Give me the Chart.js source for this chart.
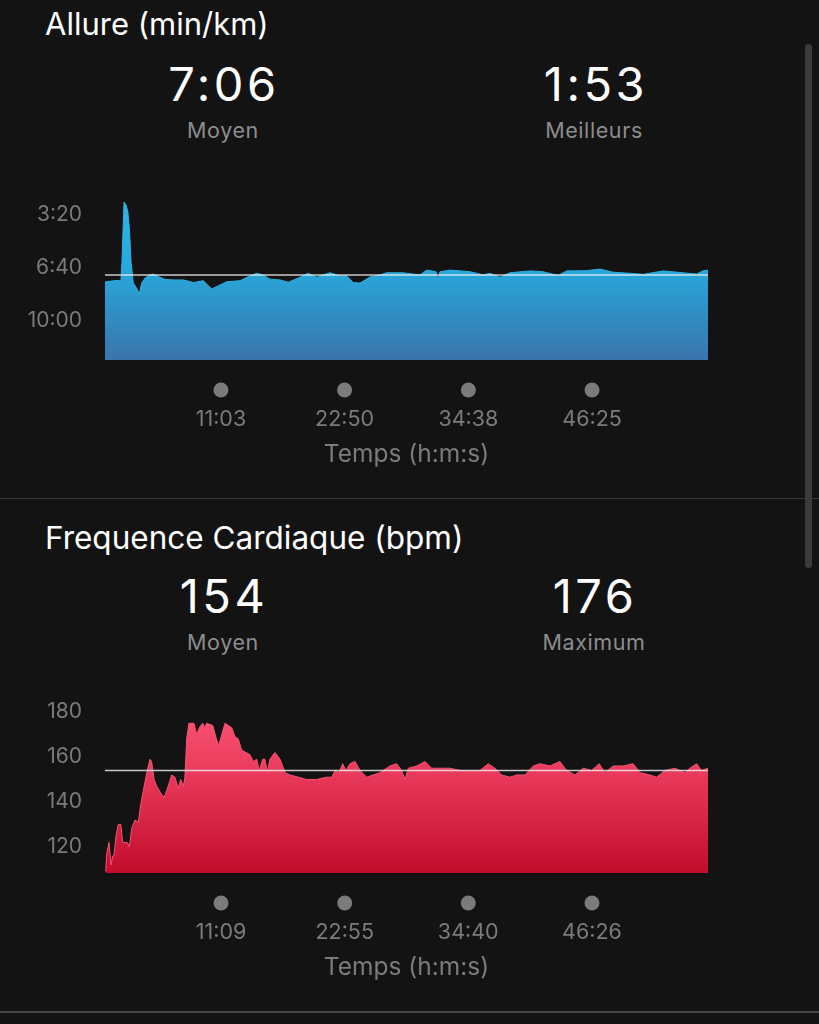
<!DOCTYPE html>
<html>
<head>
<meta charset="utf-8">
<script src="https://cdn.jsdelivr.net/npm/chart.js@4.4.1/dist/chart.umd.min.js"></script>
<style>
  html, body { margin: 0; padding: 0; }
  body {
    width: 819px; height: 1024px; overflow: hidden; position: relative;
    background: #131313; font-family: Inter, "Noto Sans", sans-serif; color: #fff;
  }
  .abs { position: absolute; white-space: nowrap; }
  .title { left: 45px; font-size: 31px; line-height: 40px; }
  .big { font-size: 47px; line-height: 60px; letter-spacing: 3.5px; width: 300px; text-align: center; }
  .sub { font-size: 21.5px; line-height: 30px; letter-spacing: 0.6px; width: 300px; text-align: center; color: #8d8d8d; }
  .sep { position: absolute; left: 0; width: 819px; }
  canvas { position: absolute; left: 0; }
  .scroll { position: absolute; left: 805px; top: 44px; width: 7px; height: 524px; border-radius: 4px; background: #3b3b3b; }
</style>
</head>
<body>
  <div class="abs title" style="top:4px">Allure (min/km)</div>
  <div class="abs big" style="left:74px; top:54px">7:06</div>
  <div class="abs sub" style="left:73px; top:115px">Moyen</div>
  <div class="abs big" style="left:446px; top:54px">1:53</div>
  <div class="abs sub" style="left:444px; top:115px">Meilleurs</div>
  <!-- y tick labels + padding push the plot top 35.6px down inside the canvas -->
  <canvas id="paceChart" width="819" height="306" style="top:164px"></canvas>

  <div class="sep" style="top:498px; height:1px; background:#3a3a3a"></div>

  <div class="abs title" style="top:518px; font-size:31.5px">Frequence Cardiaque (bpm)</div>
  <div class="abs big" style="left:74px; top:566px">154</div>
  <div class="abs sub" style="left:73px; top:627px">Moyen</div>
  <div class="abs big" style="left:445px; top:566px">176</div>
  <div class="abs sub" style="left:444px; top:627px">Maximum</div>
  <canvas id="hrChart" width="819" height="323" style="top:660px"></canvas>

  <div class="sep" style="top:1011px; height:2px; background:#474747"></div>
  <div class="scroll"></div>

<script>
// pace, seconds per km, sampled over elapsed seconds
const paceTimes = [0, 40, 74, 91, 97, 109, 120, 131, 140, 149, 162, 181, 196, 210, 229, 257, 276, 314, 343, 389,
  448, 505, 562, 610, 658, 696, 772, 819, 867, 903, 943, 1001, 1048, 1115, 1162, 1211, 1247, 1287, 1344, 1382,
  1420, 1458, 1515, 1572, 1611, 1704, 1801, 1840, 1893, 1902, 1916, 1973, 2087, 2163, 2201, 2259, 2316, 2430,
  2504, 2592, 2640, 2754, 2830, 2906, 3002, 3078, 3192, 3288, 3383, 3421, 3448];
const paceValues = [453, 449, 447, 449, 377, 151, 162, 189, 257, 377, 457, 476, 498, 457, 438, 426, 423, 435, 443, 445,
  445, 455, 448, 479, 464, 452, 448, 433, 420, 426, 442, 445, 454, 435, 420, 435, 426, 418, 430, 430,
  455, 457, 434, 426, 418, 418, 426, 408, 414, 443, 414, 408, 414, 426, 420, 435, 418, 411,
  414, 428, 411, 410, 404, 416, 420, 424, 411, 417, 423, 410, 408];
const paceAverage = 426;
const paceYTicks = ['3:20', '6:40', '10:00'];
const paceXTicks = ['11:03', '22:50', '34:38', '46:25'];

// heart rate, bpm
const hrTimes = [11, 17, 30, 41, 51, 58, 70, 83, 97, 108, 121, 134, 146, 159, 178, 197, 211, 226, 245, 264,
  273, 287, 302, 325, 344, 359, 388, 406, 425, 439, 454, 463, 473, 486, 515, 530, 545, 564, 578, 587,
  622, 639, 656, 673, 692, 711, 730, 749, 768, 787, 812, 834, 853, 873, 887, 907, 920, 933, 948, 977,
  1006, 1034, 1063, 1110, 1158, 1215, 1272, 1301, 1320, 1342, 1363, 1382, 1405, 1434, 1462, 1500, 1536, 1576, 1595, 1633,
  1671, 1700, 1719, 1738, 1786, 1833, 1871, 1918, 1976, 2033, 2090, 2147, 2194, 2232, 2271, 2318, 2356, 2404, 2451, 2489,
  2546, 2603, 2641, 2689, 2736, 2784, 2827, 2860, 2907, 2964, 3021, 3060, 3117, 3155, 3202, 3259, 3316, 3345, 3383, 3411,
  3448];
const hrValues = [109, 117, 122, 112, 116, 116, 125, 130, 130, 122, 122, 122, 120, 128, 132, 131, 139, 145, 153, 159,
  158, 150, 147, 144, 142, 145, 152, 151, 146, 150, 147, 151, 168, 175, 175, 170, 173, 175, 173, 175,
  174, 169, 165, 170, 175, 174, 173, 169, 168, 163, 162, 161, 158, 159, 154, 159, 159, 153, 159, 162,
  159, 153, 152, 151, 150, 150, 151, 151, 154, 153, 157, 154, 157, 158, 154, 151, 152, 153, 154, 156,
  157, 154, 150, 155, 156, 158, 155, 155, 155, 154, 154, 154, 157, 155, 152, 151, 152, 152, 156, 157,
  156, 158, 154, 152, 155, 154, 157, 153, 156, 156, 157, 153, 152, 151, 154, 155, 153, 155, 157, 154,
  155];
const hrAverage = 154;
const hrYTicks = [120, 140, 160, 180];
const hrXTicks = ['11:09', '22:55', '34:40', '46:26'];

const toSec = (s) => s.split(':').reduce((a, b) => a * 60 + Number(b), 0);
const fmt = (v) => `${Math.floor(v / 60)}:${String(Math.round(v % 60)).padStart(2, '0')}`;

Chart.defaults.font.family = 'Inter, "Noto Sans", sans-serif';

const tickDots = {
  id: 'tickDots',
  afterDraw(chart) {
    const x = chart.scales.x;
    const ctx = chart.ctx;
    ctx.save();
    ctx.fillStyle = '#7b7b7b';
    x.ticks.forEach((t) => {
      ctx.beginPath();
      ctx.arc(x.getPixelForValue(t.value), x.top + 30, 7.5, 0, Math.PI * 2);
      ctx.fill();
    });
    ctx.restore();
  },
};

function gradientFill(stops) {
  return (c) => {
    const area = c.chart.chartArea;
    if (!area) return stops[0][1];
    const g = c.chart.ctx.createLinearGradient(0, area.top, 0, area.bottom);
    stops.forEach(([p, col]) => g.addColorStop(p, col));
    return g;
  };
}

function makeChart(id, cfg) {
  const points = cfg.times.map((t, i) => ({ x: t, y: cfg.values[i] }));
  return new Chart(document.getElementById(id), {
    type: 'line',
    data: {
      datasets: [
        {
          data: [{ x: cfg.xMin, y: cfg.avg }, { x: cfg.xMax, y: cfg.avg }],
          borderColor: 'rgba(235, 235, 235, 0.85)',
          borderWidth: 1.5,
          pointRadius: 0,
          fill: false,
          order: 0,
        },
        {
          data: points,
          borderColor: cfg.edge,
          borderWidth: 1,
          backgroundColor: gradientFill(cfg.stops),
          fill: 'start',
          pointRadius: 0,
          tension: 0,
          order: 1,
        },
      ],
    },
    options: {
      responsive: false,
      animation: false,
      layout: { padding: { left: 0, right: 111, top: 0, bottom: 0 } },
      plugins: { legend: { display: false }, tooltip: { enabled: false } },
      scales: {
        x: {
          type: 'linear',
          min: cfg.xMin,
          max: cfg.xMax,
          grid: { display: false, drawTicks: false },
          border: { display: false },
          afterFit: (s) => { s.height = 110; },
          afterBuildTicks: (s) => { s.ticks = cfg.xTicks.map((l) => ({ value: toSec(l) })); },
          ticks: {
            autoSkip: false,
            maxRotation: 0,
            padding: 47,
            color: '#7b7b7b',
            font: { size: 21.5 },
            callback: (v) => fmt(v),
          },
          title: {
            display: true,
            text: 'Temps (h:m:s)',
            color: '#7b7b7b',
            font: { size: 24.5 },
            padding: { top: 0, bottom: 1 },
          },
        },
        y: {
          reverse: cfg.reverse,
          min: cfg.yMin,
          max: cfg.yMax,
          grid: { display: false, drawTicks: false },
          border: { display: false },
          afterFit: (s) => { s.width = 105; },
          afterBuildTicks: (s) => { s.ticks = cfg.yTicks.map((v) => ({ value: v })); },
          ticks: {
            padding: 23,
            color: '#7b7b7b',
            font: { size: 21 },
            callback: cfg.yFormat,
          },
        },
      },
    },
    plugins: [tickDots],
  });
}

makeChart('paceChart', {
  times: paceTimes,
  values: paceValues,
  avg: paceAverage,
  xMin: 0,
  xMax: 3448,
  xTicks: paceXTicks,
  yTicks: paceYTicks.map(toSec),
  yFormat: (v) => fmt(v),
  reverse: true,
  yMin: 142,
  yMax: 747,
  edge: '#2cb0e4',
  stops: [[0, '#2bb8ec'], [0.45, '#28a6da'], [1, '#3a74ab']],
});

makeChart('hrChart', {
  times: hrTimes,
  values: hrValues,
  avg: hrAverage,
  xMin: 7,
  xMax: 3448,
  xTicks: hrXTicks,
  yTicks: hrYTicks,
  yFormat: (v) => v,
  reverse: false,
  yMin: 108.4,
  yMax: 187.3,
  edge: '#f85272',
  stops: [[0, '#ff5a7a'], [0.4, '#ec3d5e'], [1, '#c20c2c']],
});
</script>
</body>
</html>
